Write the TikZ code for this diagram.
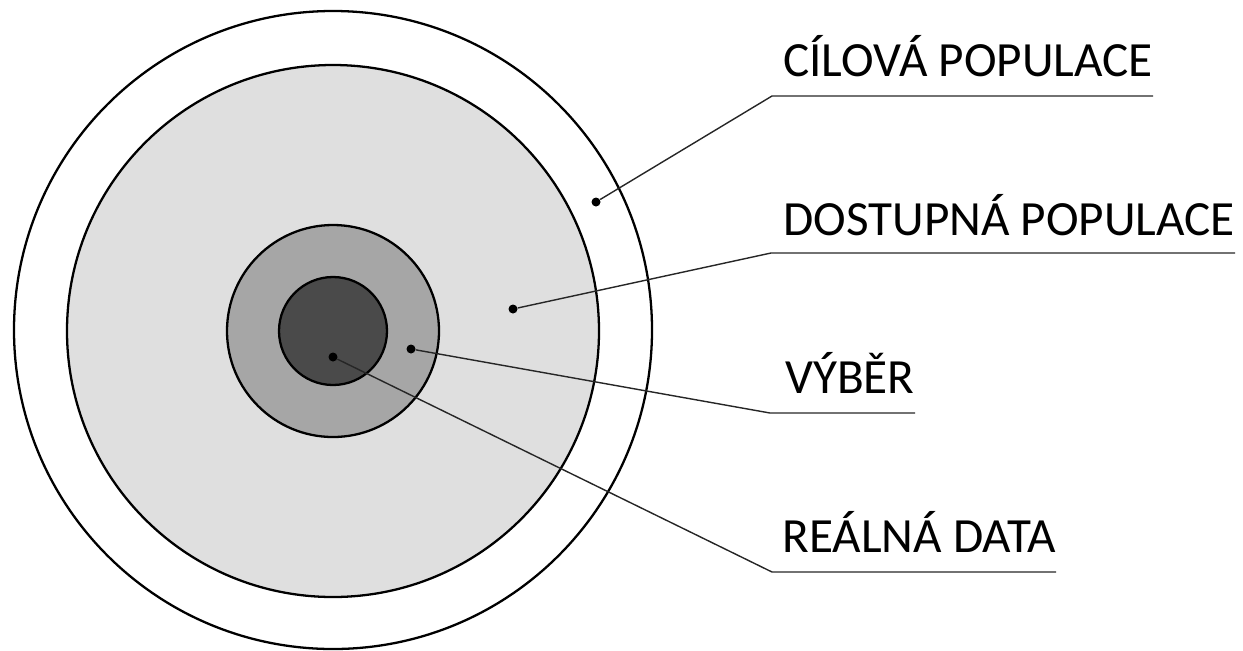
\documentclass[tikz,border=0pt]{standalone}
\usepackage{fontspec}
\setmainfont{Carlito}
\usepackage{xcolor}
\definecolor{ringlight}{HTML}{DFDFDF}
\definecolor{ringmid}{HTML}{A6A6A6}
\definecolor{ringdark}{HTML}{4A4A4A}

\begin{document}
\begin{tikzpicture}[
    x=0.02cm, y=-0.02cm,
    ring/.style={draw, line width=1.3pt},
    dot/.style={circle, fill=black, inner sep=0pt, minimum size=0.18cm},
    label/.style={anchor=base west, inner sep=0pt, font=\fontsize{28}{32}\selectfont},
    leader/.style={line width=0.8pt, draw=black!85}
  ]
    \useasboundingbox (0,0) rectangle (1243,650);

    % circles
    \draw[ring] (333,330) circle (319);
    \draw[ring, fill=ringlight] (333,331) circle (266);
    \draw[ring, fill=ringmid] (333,331) circle (106);
    \draw[ring, fill=ringdark] (333,331) circle (54);

    % dots
    \node[dot] (tgt) at (596,202) {};
    \node[dot] (acc) at (513,309) {};
    \node[dot] (smp) at (411,349) {};
    \node[dot] (real) at (333,357) {};

    % labels
    \node[label] (tgtlbl) at (783,76) {CÍLOVÁ POPULACE};
    \node[label] (acclbl) at (783,235) {DOSTUPNÁ POPULACE};
    \node[label] (smplbl) at (785,393) {VÝBĚR};
    \node[label] (reallbl) at (782,552) {REÁLNÁ DATA};

    \coordinate (tgtul) at (772,96);
    \coordinate (accul) at (771,253);
    \coordinate (smpul) at (770,413);
    \coordinate (realul) at (772,572);

    \draw[leader] (tgt) -- (tgtul) -- (tgtul -| tgtlbl.east);
    \draw[leader] (acc) -- (accul) -- (accul -| acclbl.east);
    \draw[leader] (smp) -- (smpul) -- (smpul -| smplbl.east);
    \draw[leader] (real) -- (realul) -- (realul -| reallbl.east);
  \end{tikzpicture}
\end{document}
